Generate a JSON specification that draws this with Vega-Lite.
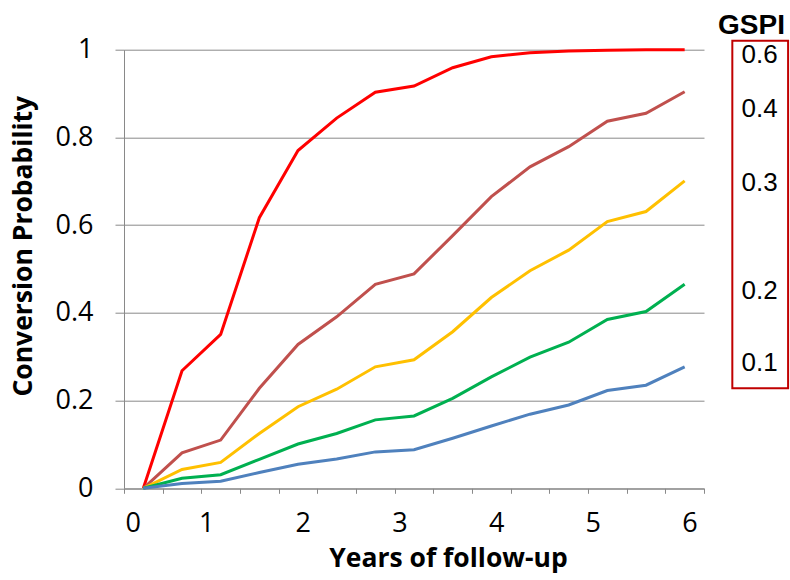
{
  "$schema": "https://vega.github.io/schema/vega-lite/v6.json",
  "width": 580,
  "height": 438.6,
  "autosize": {"type": "none"},
  "padding": {"left": 124, "top": 49.7, "right": 86, "bottom": 92},
  "background": "white",
  "config": {
    "view": {"stroke": null},
    "axis": {"domainColor": "#898989", "tickColor": "#898989", "gridColor": "#898989", "labelColor": "#000000", "titleColor": "#000000"}
  },
  "resolve": {"axis": {"x": "independent", "y": "independent"}},
  "layer": [
    {
      "data": {"values": [
        {"year": 0.35, "gspi": "0.6", "p": 0}, {"year": 0.75, "gspi": "0.6", "p": 0.268}, {"year": 1.15, "gspi": "0.6", "p": 0.351}, {"year": 1.55, "gspi": "0.6", "p": 0.617}, {"year": 1.95, "gspi": "0.6", "p": 0.770}, {"year": 2.35, "gspi": "0.6", "p": 0.844}, {"year": 2.75, "gspi": "0.6", "p": 0.903}, {"year": 3.15, "gspi": "0.6", "p": 0.917}, {"year": 3.55, "gspi": "0.6", "p": 0.959}, {"year": 3.95, "gspi": "0.6", "p": 0.984}, {"year": 4.35, "gspi": "0.6", "p": 0.993}, {"year": 4.75, "gspi": "0.6", "p": 0.997}, {"year": 5.15, "gspi": "0.6", "p": 0.999}, {"year": 5.55, "gspi": "0.6", "p": 1.0}, {"year": 5.95, "gspi": "0.6", "p": 1.0},
        {"year": 0.35, "gspi": "0.4", "p": 0}, {"year": 0.75, "gspi": "0.4", "p": 0.081}, {"year": 1.15, "gspi": "0.4", "p": 0.110}, {"year": 1.55, "gspi": "0.4", "p": 0.228}, {"year": 1.95, "gspi": "0.4", "p": 0.328}, {"year": 2.35, "gspi": "0.4", "p": 0.391}, {"year": 2.75, "gspi": "0.4", "p": 0.465}, {"year": 3.15, "gspi": "0.4", "p": 0.489}, {"year": 3.55, "gspi": "0.4", "p": 0.576}, {"year": 3.95, "gspi": "0.4", "p": 0.665}, {"year": 4.35, "gspi": "0.4", "p": 0.733}, {"year": 4.75, "gspi": "0.4", "p": 0.779}, {"year": 5.15, "gspi": "0.4", "p": 0.837}, {"year": 5.55, "gspi": "0.4", "p": 0.855}, {"year": 5.95, "gspi": "0.4", "p": 0.904},
        {"year": 0.35, "gspi": "0.3", "p": 0}, {"year": 0.75, "gspi": "0.3", "p": 0.043}, {"year": 1.15, "gspi": "0.3", "p": 0.059}, {"year": 1.55, "gspi": "0.3", "p": 0.125}, {"year": 1.95, "gspi": "0.3", "p": 0.186}, {"year": 2.35, "gspi": "0.3", "p": 0.226}, {"year": 2.75, "gspi": "0.3", "p": 0.277}, {"year": 3.15, "gspi": "0.3", "p": 0.293}, {"year": 3.55, "gspi": "0.3", "p": 0.357}, {"year": 3.95, "gspi": "0.3", "p": 0.435}, {"year": 4.35, "gspi": "0.3", "p": 0.496}, {"year": 4.75, "gspi": "0.3", "p": 0.543}, {"year": 5.15, "gspi": "0.3", "p": 0.608}, {"year": 5.55, "gspi": "0.3", "p": 0.631}, {"year": 5.95, "gspi": "0.3", "p": 0.701},
        {"year": 0.35, "gspi": "0.2", "p": 0}, {"year": 0.75, "gspi": "0.2", "p": 0.023}, {"year": 1.15, "gspi": "0.2", "p": 0.031}, {"year": 1.55, "gspi": "0.2", "p": 0.066}, {"year": 1.95, "gspi": "0.2", "p": 0.101}, {"year": 2.35, "gspi": "0.2", "p": 0.125}, {"year": 2.75, "gspi": "0.2", "p": 0.156}, {"year": 3.15, "gspi": "0.2", "p": 0.165}, {"year": 3.55, "gspi": "0.2", "p": 0.205}, {"year": 3.95, "gspi": "0.2", "p": 0.254}, {"year": 4.35, "gspi": "0.2", "p": 0.299}, {"year": 4.75, "gspi": "0.2", "p": 0.333}, {"year": 5.15, "gspi": "0.2", "p": 0.385}, {"year": 5.55, "gspi": "0.2", "p": 0.403}, {"year": 5.95, "gspi": "0.2", "p": 0.465},
        {"year": 0.35, "gspi": "0.1", "p": 0}, {"year": 0.75, "gspi": "0.1", "p": 0.011}, {"year": 1.15, "gspi": "0.1", "p": 0.016}, {"year": 1.55, "gspi": "0.1", "p": 0.036}, {"year": 1.95, "gspi": "0.1", "p": 0.055}, {"year": 2.35, "gspi": "0.1", "p": 0.067}, {"year": 2.75, "gspi": "0.1", "p": 0.083}, {"year": 3.15, "gspi": "0.1", "p": 0.088}, {"year": 3.55, "gspi": "0.1", "p": 0.114}, {"year": 3.95, "gspi": "0.1", "p": 0.142}, {"year": 4.35, "gspi": "0.1", "p": 0.169}, {"year": 4.75, "gspi": "0.1", "p": 0.190}, {"year": 5.15, "gspi": "0.1", "p": 0.223}, {"year": 5.55, "gspi": "0.1", "p": 0.235}, {"year": 5.95, "gspi": "0.1", "p": 0.277}
      ]},
      "mark": {"type": "line", "strokeWidth": 3},
      "encoding": {
        "x": {
          "field": "year", "type": "quantitative",
          "scale": {"domain": [0.15, 6.15], "nice": false, "zero": false},
          "axis": {
            "orient": "bottom",
            "values": [0.15, 0.55, 0.95, 1.35, 1.75, 2.15, 2.55, 2.95, 3.35, 3.75, 4.15, 4.55, 4.95, 5.35, 5.75, 6.15],
            "labels": false, "ticks": true, "tickSize": 5, "grid": false, "title": null, "domain": true
          }
        },
        "y": {
          "field": "p", "type": "quantitative",
          "scale": {"domain": [0, 1], "nice": false, "zero": true},
          "axis": {
            "orient": "left",
            "values": [0, 0.2, 0.4, 0.6, 0.8, 1],
            "format": "~g",
            "grid": true, "tickSize": 9, "labelPadding": 22,
            "labelFont": "Open Sans", "labelFontSize": 27,
            "title": "Conversion Probability",
            "titleFont": "Open Sans", "titleFontSize": 26.5, "titleFontWeight": "bold",
            "titleAngle": -90, "titleAlign": "center", "titleBaseline": "alphabetic",
            "titleX": -93, "titleY": 196
          }
        },
        "color": {
          "field": "gspi", "type": "nominal",
          "scale": {"domain": ["0.6", "0.4", "0.3", "0.2", "0.1"], "range": ["#FF0000", "#C0504D", "#FFC000", "#00B050", "#4F81BD"]},
          "legend": null
        }
      }
    },
    {
      "data": {"values": [{}]},
      "mark": {"type": "rect", "fill": "transparent", "stroke": "#C00000", "strokeWidth": 2, "clip": false},
      "encoding": {
        "x": {
          "datum": 6.443, "type": "quantitative",
          "scale": {"domain": [0.15, 6.15], "nice": false, "zero": false},
          "axis": {
            "orient": "bottom",
            "values": [0.24, 1, 2, 3, 4, 5, 6],
            "labelExpr": "datum.value < 0.5 ? '0' : datum.label",
            "ticks": false, "domain": false, "grid": false,
            "labelFlush": false, "labelOverlap": false, "labelBound": false,
            "labelPadding": 22,
            "labelFont": "Open Sans", "labelFontSize": 27,
            "title": "Years of follow-up",
            "titleFont": "Open Sans", "titleFontSize": 26.5, "titleFontWeight": "bold",
            "titleAlign": "center", "titleBaseline": "alphabetic",
            "titleX": 324, "titleY": 78
          }
        },
        "x2": {"datum": 7.02},
        "y": {
          "datum": 1.0205, "type": "quantitative",
          "scale": {"domain": [0, 1], "nice": false, "zero": true},
          "axis": {
            "orient": "right",
            "values": [0.988, 0.867, 0.698, 0.452, 0.286],
            "labelExpr": "datum.value > 0.95 ? '0.6' : datum.value > 0.8 ? '0.4' : datum.value > 0.6 ? '0.3' : datum.value > 0.4 ? '0.2' : '0.1'",
            "ticks": false, "domain": false, "grid": false,
            "labelOverlap": false, "labelFlush": false, "labelBound": false,
            "labelPadding": 37, "labelAlign": "left", "labelBaseline": "middle",
            "labelFont": "Liberation Sans", "labelFontSize": 26,
            "title": "GSPI",
            "titleFont": "Liberation Sans", "titleFontSize": 28, "titleFontWeight": "bold",
            "titleAngle": 0, "titleAlign": "center", "titleBaseline": "alphabetic",
            "titleX": 47, "titleY": -16.4
          }
        },
        "y2": {"datum": 0.228}
      }
    }
  ]
}
